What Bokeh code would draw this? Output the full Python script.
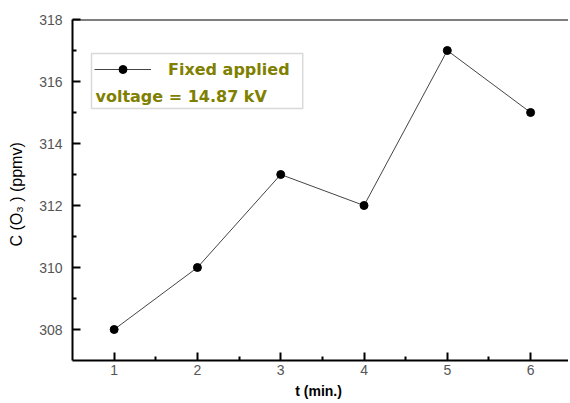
from bokeh.plotting import figure
from bokeh.models import (Range1d, FixedTicker, Span, BoxAnnotation, Label,
                          Legend, LegendItem)
from bokeh.embed import file_html
from bokeh.resources import INLINE

# data
t_min = [1, 2, 3, 4, 5, 6]
c_o3 = [308, 310, 313, 312, 317, 315]
x_ticks = [1, 2, 3, 4, 5, 6]
x_minor = [1.5, 2.5, 3.5, 4.5, 5.5]
y_ticks = [308, 310, 312, 314, 316, 318]
y_minor = [309, 311, 313, 315, 317]
legend_line1 = "Fixed applied"
legend_line2 = "voltage = 14.87 kV"

FONT = "Liberation Sans"
LFONT = "DejaVu Sans"
OLIVE = "#808000"

p = figure(width=568, height=402, output_backend="svg", toolbar_location=None,
           x_range=Range1d(0.5, 6.455), y_range=Range1d(307, 318),
           min_border_left=72, min_border_right=0, min_border_top=19,
           min_border_bottom=42)
p.outline_line_color = None
p.grid.visible = False
p.background_fill_color = "white"
p.border_fill_color = "white"

for ax in (p.xaxis[0], p.yaxis[0]):
    ax.axis_line_width = 2
    ax.axis_line_color = "black"
    ax.major_tick_in = 8
    ax.major_tick_out = 0
    ax.minor_tick_in = 4
    ax.minor_tick_out = 0
    ax.major_tick_line_width = 2
    ax.minor_tick_line_width = 2
    ax.major_label_text_font = FONT
    ax.major_label_text_font_size = "14px"
    ax.major_label_text_color = "#555555"
    ax.axis_label_text_font = FONT
    ax.axis_label_text_font_style = "normal"
    ax.axis_label_text_color = "black"

p.xaxis[0].ticker = FixedTicker(ticks=x_ticks, minor_ticks=x_minor)
p.yaxis[0].ticker = FixedTicker(ticks=y_ticks, minor_ticks=y_minor)
p.xaxis[0].major_label_standoff = 4
p.yaxis[0].major_label_standoff = 10
p.xaxis[0].axis_label = "t  (min.)"
p.xaxis[0].axis_label_text_font_size = "14px"
p.xaxis[0].axis_label_text_font_style = "bold"
p.xaxis[0].axis_label_standoff = 5
p.yaxis[0].axis_label = "C (O\u2083 )   (ppmv)"
p.yaxis[0].axis_label_text_font_size = "16px"
p.yaxis[0].axis_label_standoff = 11

# top frame line
p.add_layout(Span(location=318, dimension="width", line_color="black", line_width=2))

ln = p.line(t_min, c_o3, line_color="#444444", line_width=1)
sc = p.scatter(t_min, c_o3, size=8, marker="circle", fill_color="black", line_color="black")

# legend box
box = BoxAnnotation(left=0.728, right=3.264, top=316.903, bottom=315.129,
                    fill_color="white", fill_alpha=1.0,
                    line_color="#808080", line_width=1.5)
p.add_layout(box)

leg = Legend(items=[LegendItem(label=legend_line1, renderers=[ln, sc])],
             location=(22, 281), padding=4, margin=0, glyph_width=57,
             label_standoff=17, label_text_font=LFONT, label_text_font_size="16px",
             label_text_font_style="bold", label_text_color=OLIVE,
             background_fill_alpha=0, border_line_color=None)
p.add_layout(leg)

lab = Label(x=0.776, y=315.516, text=legend_line2, text_baseline="middle",
            text_font=LFONT, text_font_size="16px", text_font_style="bold",
            text_color=OLIVE)
p.add_layout(lab)

open("out.html", "w").write(file_html(p, INLINE))
